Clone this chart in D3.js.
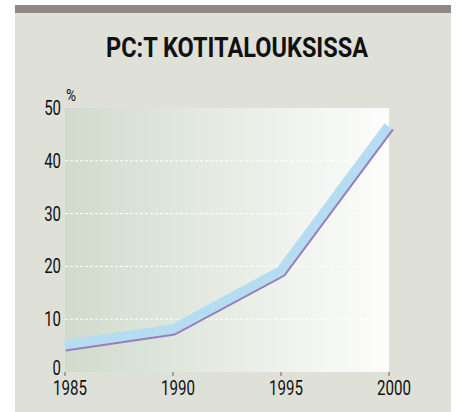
<!DOCTYPE html>
<html>
<head>
<meta charset="utf-8">
<script src="https://cdn.jsdelivr.net/npm/d3@7"></script>
<style>
  body { margin: 0; background: #fff; }
  text { font-family: Roboto, "Liberation Sans", sans-serif; }
</style>
</head>
<body>
<svg width="456" height="412"></svg>
<script>
var title = 'PC:T KOTITALOUKSISSA';
var years = [1985, 1990, 1995, 2000];
var values = [5, 8, 19, 46.5];
var yTicks = [0, 10, 20, 30, 40, 50];
var gridTicks = [10, 20, 30, 40];
var unit = '%';

var svg = d3.select('svg');

// frame
svg.append('rect').attr('x', 15).attr('y', 13).attr('width', 436).attr('height', 399).attr('fill', '#dfe0d8');
svg.append('rect').attr('x', 15).attr('y', 5).attr('width', 436).attr('height', 8).attr('fill', '#8e8986');

// fonts are wider than the condensed face of the original, so squeeze them
svg.append('text')
  .attr('x', 106).attr('y', 56.5)
  .attr('textLength', 262).attr('lengthAdjust', 'spacingAndGlyphs')
  .attr('font-size', 28).attr('font-weight', 'bold').attr('fill', '#111')
  .text(title);

var xScale = d3.scaleLinear().domain([1985, 2000]).range([65, 389]);
var yScale = d3.scaleLinear().domain([0, 50]).range([372, 108]);

// background gradient of plot area
var grad = svg.append('defs').append('linearGradient').attr('id', 'bg');
grad.append('stop').attr('offset', '0%').attr('stop-color', '#d0dbcc');
grad.append('stop').attr('offset', '100%').attr('stop-color', '#fdfdfc');

svg.append('rect')
  .attr('x', xScale(1985)).attr('y', yScale(50))
  .attr('width', xScale(2000) - xScale(1985)).attr('height', yScale(0) - yScale(50))
  .attr('fill', 'url(#bg)');

// grid
svg.selectAll('.grid').data(gridTicks).enter().append('line')
  .attr('x1', xScale(1985)).attr('x2', 370)
  .attr('y1', function (d) { return yScale(d); })
  .attr('y2', function (d) { return yScale(d); })
  .attr('stroke', '#fff').attr('stroke-width', 1).attr('stroke-dasharray', '3,2');

// y labels
svg.selectAll('.ylab').data(yTicks).enter().append('text')
  .attr('x', 61)
  .attr('y', function (d) { return yScale(d) + (d == 0 ? 2.5 : 7); })
  .attr('text-anchor', 'end').attr('font-size', 19.5).attr('fill', '#111')
  .attr('textLength', function (d) { return String(d).length * 8.4; })
  .attr('lengthAdjust', 'spacingAndGlyphs')
  .text(function (d) { return d; });

svg.append('text').attr('x', 66).attr('y', 101).attr('font-size', 16)
  .attr('textLength', 10).attr('lengthAdjust', 'spacingAndGlyphs')
  .attr('fill', '#111').text(unit);

// x axis
svg.selectAll('.xtick').data(years).enter().append('line')
  .attr('x1', function (d) { return xScale(d); })
  .attr('x2', function (d) { return xScale(d); })
  .attr('y1', 372).attr('y2', 376)
  .attr('stroke', '#666').attr('stroke-width', 1);

svg.selectAll('.xlab').data(years).enter().append('text')
  .attr('x', function (d) { return xScale(d) + 5; })
  .attr('y', 394.5)
  .attr('text-anchor', 'middle').attr('font-size', 21).attr('fill', '#111')
  .attr('textLength', 34).attr('lengthAdjust', 'spacingAndGlyphs')
  .text(function (d) { return d; });

// line: blue band with a purple edge on its lower side
var pts = years.map(function (d, i) { return [xScale(d), yScale(values[i])]; });

function offsetLine(p, dist) {
  var out = [];
  for (var i = 0; i < p.length; i++) {
    var ns = [];
    if (i > 0) ns.push(normal(p[i - 1], p[i]));
    if (i < p.length - 1) ns.push(normal(p[i], p[i + 1]));
    var nx = 0, ny = 0;
    ns.forEach(function (n) { nx += n[0]; ny += n[1]; });
    var len = Math.sqrt(nx * nx + ny * ny);
    nx /= len; ny /= len;
    var k = dist / (nx * ns[0][0] + ny * ns[0][1]);
    out.push([p[i][0] + nx * k, p[i][1] + ny * k]);
  }
  return out;
}
function normal(a, b) {
  var dx = b[0] - a[0], dy = b[1] - a[1];
  var l = Math.sqrt(dx * dx + dy * dy);
  return [-dy / l, dx / l];
}

var line = d3.line();

svg.append('path')
  .attr('d', line(pts))
  .attr('fill', 'none').attr('stroke', '#b6dcf2')
  .attr('stroke-width', 11).attr('stroke-linejoin', 'miter');

svg.append('path')
  .attr('d', line(offsetLine(pts, 5)))
  .attr('fill', 'none').attr('stroke', '#977ebd')
  .attr('stroke-width', 2).attr('stroke-linejoin', 'miter');
</script>
</body>
</html>
